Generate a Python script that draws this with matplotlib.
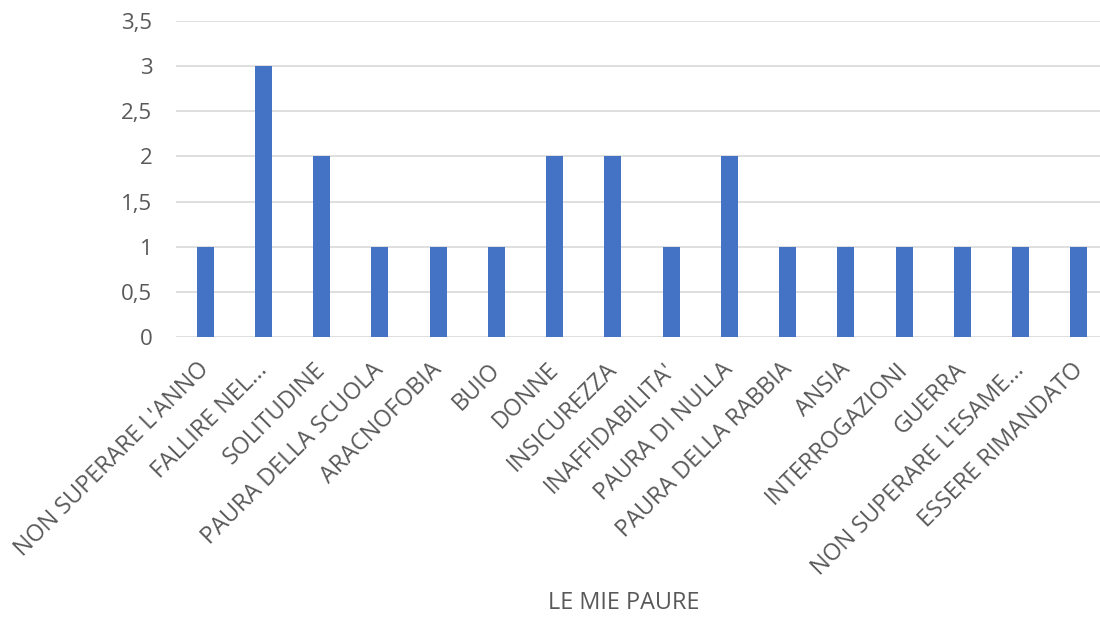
import matplotlib

matplotlib.use("Agg")
import matplotlib.pyplot as plt
from matplotlib.ticker import FuncFormatter, MultipleLocator
from matplotlib.transforms import ScaledTranslation

CATEGORIES = [
    "NON SUPERARE L'ANNO",
    "FALLIRE NEL...",
    "SOLITUDINE",
    "PAURA DELLA SCUOLA",
    "ARACNOFOBIA",
    "BUIO",
    "DONNE",
    "INSICUREZZA",
    "INAFFIDABILITA'",
    "PAURA DI NULLA",
    "PAURA DELLA RABBIA",
    "ANSIA",
    "INTERROGAZIONI",
    "GUERRA",
    "NON SUPERARE L'ESAME...",
    "ESSERE RIMANDATO",
]
COUNTS = [1, 3, 2, 1, 1, 1, 2, 2, 1, 2, 1, 1, 1, 1, 1, 1]
X_LABEL = "LE MIE PAURE"

BAR_COLOR = "#4472C4"
TEXT_COLOR = "#595959"
GRID_COLOR = "#D9D9D9"

plt.rcParams["font.family"] = ["Open Sans", "DejaVu Sans"]

fig = plt.figure(figsize=(11, 6.18), dpi=100)
axis = fig.add_axes([0.16, 0.4547, 0.8473, 0.5113])

positions = range(len(CATEGORIES))
axis.bar(positions, COUNTS, width=0.29, color=BAR_COLOR, zorder=3)

axis.set_xlim(-0.5, len(CATEGORIES) - 0.5)
axis.set_ylim(0, 3.5)
axis.yaxis.set_major_locator(MultipleLocator(0.5))
axis.yaxis.set_major_formatter(
    FuncFormatter(lambda v, _: f"{v:g}".replace(".", ","))
)
axis.grid(axis="y", color=GRID_COLOR, linewidth=1.2, zorder=0)

for side in ["top", "right", "left", "bottom"]:
    axis.spines[side].set_visible(False)

axis.tick_params(axis="y", length=0, pad=17, labelsize=16, labelcolor=TEXT_COLOR)
axis.tick_params(axis="x", length=0, pad=15, labelsize=16.8, labelcolor=TEXT_COLOR)
axis.set_xticks(list(positions))
axis.set_xticklabels(CATEGORIES, rotation=45, ha="right", va="top",
                     rotation_mode="anchor")
# Excel places the rotated labels a little left of the category centre
shift = ScaledTranslation(-0.08, 0, fig.dpi_scale_trans)
for label in axis.get_xticklabels():
    label.set_transform(label.get_transform() + shift)

fig.text(0.567, 0.005, X_LABEL, fontsize=16.8, color=TEXT_COLOR,
         ha="center", va="bottom")

fig.savefig("out.png", dpi=100)
plt.close(fig)
